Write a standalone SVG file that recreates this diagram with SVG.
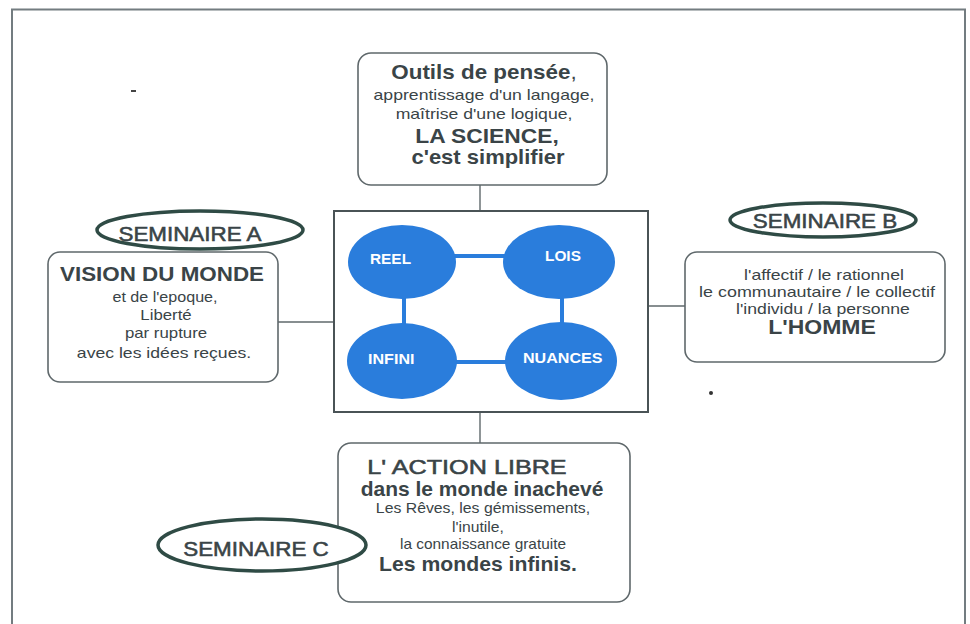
<svg xmlns="http://www.w3.org/2000/svg" width="970" height="624" viewBox="0 0 970 624">
<style>
  text { font-family: "Liberation Sans", Arial, sans-serif; fill: #3a4447; text-anchor: middle; }
  .box { fill: #fff; stroke: #5f686b; stroke-width: 1.6; }
  .oval { fill: #fff; stroke: #2f4b45; stroke-width: 3.5; }
  .sem { font-size: 20px; stroke: #3a4447; stroke-width: 0.55; }
  .big { font-size: 20px; font-weight: bold; }
  .med { font-size: 20px; stroke: #3a4447; stroke-width: 0.55; }
  .small { font-size: 14px; }
  .blob { fill: #2a7ddc; }
  .lbl { fill: #fff; font-size: 14px; font-weight: bold; text-anchor: start; }
  .conn { stroke: #5f686b; stroke-width: 1.4; fill: none; }
</style>
<rect width="970" height="624" fill="#fff"/>
<path d="M12 626 V9.5 H965 V626" fill="none" stroke="#737c80" stroke-width="2"/>
<rect x="131" y="90" width="5" height="2" fill="#444"/>
<circle cx="711" cy="393" r="2" fill="#333"/>

<g id="connectors">
  <line class="conn" x1="480" y1="185" x2="480" y2="211"/>
  <line class="conn" x1="480" y1="412" x2="480" y2="443"/>
  <line class="conn" x1="278" y1="322" x2="334" y2="322"/>
  <line class="conn" x1="648" y1="306" x2="685" y2="306"/>
</g>

<g id="top-box">
  <rect class="box" x="358" y="53" width="249" height="132" rx="13"/>
  <text class="big" transform="translate(484,79) scale(1.12,1)">Outils de pensée<tspan font-weight="normal">,</tspan></text>
  <text class="small" transform="translate(484,100) scale(1.26,1)">apprentissage d'un langage,</text>
  <text class="small" transform="translate(484,119) scale(1.26,1)">maîtrise d'une logique,</text>
  <text class="big" transform="translate(487,143) scale(1.14,1)">LA SCIENCE,</text>
  <text class="big" transform="translate(488,164) scale(1.1,1)">c'est simplifier</text>
</g>

<g id="center">
  <rect x="334" y="211" width="314" height="201" fill="#fff" stroke="#4a5356" stroke-width="2"/>
  <rect x="404" y="256" width="158" height="106" rx="30" fill="none" stroke="#2a7ddc" stroke-width="4"/>
  <g id="reel"><ellipse class="blob" cx="402" cy="262" rx="54" ry="37"/><text class="lbl" transform="translate(370,264) scale(1.1,1)">REEL</text></g>
  <g id="lois"><ellipse class="blob" cx="559" cy="262" rx="56" ry="37"/><text class="lbl" transform="translate(545,261) scale(1.1,1)">LOIS</text></g>
  <g id="infini"><ellipse class="blob" cx="402" cy="361" rx="55" ry="38"/><text class="lbl" transform="translate(368,364) scale(1.15,1)">INFINI</text></g>
  <g id="nuances"><ellipse class="blob" cx="561" cy="361" rx="56" ry="39"/><text class="lbl" transform="translate(523,363) scale(1.15,1)">NUANCES</text></g>
</g>

<g id="seminaire-a">
  <rect class="box" x="48" y="252" width="230" height="130" rx="12"/>
  <ellipse class="oval" cx="200" cy="230" rx="103" ry="19"/>
  <text class="sem" transform="translate(190,241) scale(1.12,1)">SEMINAIRE A</text>
  <text class="big" transform="translate(162,281) scale(1.12,1)">VISION DU MONDE</text>
  <text class="small" transform="translate(165,302) scale(1.15,1)">et de l'epoque,</text>
  <text class="small" transform="translate(166,320) scale(1.2,1)">Liberté</text>
  <text class="small" transform="translate(166,338) scale(1.2,1)">par rupture</text>
  <text class="small" transform="translate(164,358) scale(1.26,1)">avec les idées reçues.</text>
</g>

<g id="seminaire-b">
  <rect class="box" x="685" y="252" width="260" height="110" rx="12"/>
  <ellipse class="oval" cx="823" cy="220" rx="93" ry="17"/>
  <text class="sem" transform="translate(825,228) scale(1.12,1)">SEMINAIRE B</text>
  <text class="small" transform="translate(824,280) scale(1.26,1)">l'affectif / le rationnel</text>
  <text class="small" transform="translate(817,297) scale(1.28,1)">le communautaire / le collectif</text>
  <text class="small" transform="translate(823,314) scale(1.26,1)">l'individu / la personne</text>
  <text class="big" transform="translate(822,334) scale(1.15,1)">L'HOMME</text>
</g>

<g id="seminaire-c">
  <rect class="box" x="338" y="443" width="292" height="159" rx="13"/>
  <ellipse class="oval" cx="262" cy="545" rx="104" ry="26"/>
  <text class="sem" transform="translate(256,556) scale(1.12,1)">SEMINAIRE C</text>
  <text class="med" transform="translate(467,474) scale(1.26,1)">L' ACTION LIBRE</text>
  <text class="big" transform="translate(482,496) scale(1.05,1)">dans le monde inachevé</text>
  <text class="small" transform="translate(483,513) scale(1.13,1)">Les Rêves, les gémissements,</text>
  <text class="small" transform="translate(478,532) scale(1.12,1)">l'inutile,</text>
  <text class="small" transform="translate(483,549) scale(1.1,1)">la connaissance gratuite</text>
  <text class="big" transform="translate(478,571) scale(1.06,1)">Les mondes infinis.</text>
</g>
</svg>
